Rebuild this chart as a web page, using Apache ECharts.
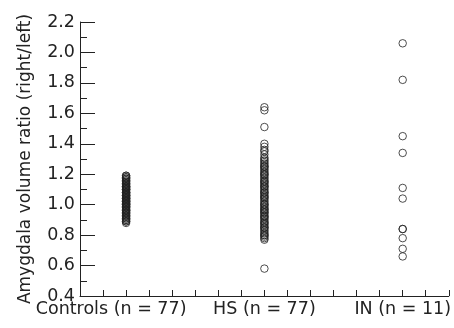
<!DOCTYPE html>
<html>
<head>
<meta charset="utf-8">
<script src="https://cdn.jsdelivr.net/npm/echarts@6/dist/echarts.min.js"></script>
<style>
  html, body { margin: 0; padding: 0; background: #fff; }
  #chart { width: 454px; height: 328px; }
</style>
</head>
<body>
<div id="chart"></div>
<script>
  // group names and x positions (on a 0..16 tick scale)
  var groups = ['Controls (n = 77)', 'HS (n = 77)', 'IN (n = 11)']
  var groupX = [2, 8, 14]

  // amygdala volume ratio (right/left)
  var controls = [
    0.88, 0.89, 0.90, 0.91, 0.92, 0.93, 0.94, 0.95, 0.96, 0.97,
    0.98, 0.99, 1.00, 1.01, 1.02, 1.03, 1.04, 1.05, 1.06, 1.07,
    1.08, 1.09, 1.10, 1.11, 1.12, 1.13, 1.14, 1.15, 1.16, 1.17,
    1.18, 1.19, 0.89, 0.90, 0.92, 0.93, 0.95, 0.96, 0.98, 0.99,
    1.00, 1.01, 1.02, 1.03, 1.04, 1.05, 1.06, 1.07, 1.08, 1.09,
    1.10, 1.11, 1.12, 1.13, 1.15, 1.16, 1.18, 1.19, 0.91, 0.94,
    0.97, 1.00, 1.01, 1.02, 1.04, 1.05, 1.06, 1.08, 1.10, 1.12,
    1.14, 1.17, 1.03, 0.99, 1.07, 1.11, 0.96
  ]
  var hs = [
    1.64, 1.62, 1.51, 1.40, 1.38, 1.36, 1.35, 1.33, 1.31,
    1.30, 1.29, 1.28, 1.27, 1.26, 1.25, 1.24, 1.23, 1.22, 1.21,
    1.20, 1.19, 1.18, 1.17, 1.16, 1.15, 1.14, 1.13, 1.12, 1.11,
    1.10, 1.09, 1.08, 1.07, 1.06, 1.05, 1.04, 1.03, 1.02, 1.01,
    1.00, 0.99, 0.98, 0.97, 0.96, 0.95, 0.94, 0.93, 0.92, 0.91,
    0.90, 0.89, 0.88, 0.87, 0.86, 0.85, 0.84, 0.83, 0.82, 0.81,
    0.80, 0.79, 0.78, 0.77, 0.58,
    1.25, 1.20, 1.15, 1.12, 1.08, 1.05, 1.00, 0.97, 0.95, 0.92,
    0.88, 0.85, 0.80
  ]
  var inGroup = [2.06, 1.82, 1.45, 1.34, 1.11, 1.04, 0.84, 0.84, 0.78, 0.71, 0.66]

  var yTicks = [0.4, 0.6, 0.8, 1.0, 1.2, 1.4, 1.6, 1.8, 2.0, 2.2]

  function toPoints(x, list) {
    var out = []
    for (var i = 0; i < list.length; i++) {
      out.push([x, list[i]])
    }
    return out
  }

  var textColor = '#222'
  var font = 'DejaVu Sans'

  var chart = echarts.init(document.getElementById('chart'))
  var option = {
    animation: false,
    grid: {
      left: 80,
      right: 1,
      top: 22,
      bottom: 32
    },
    xAxis: {
      type: 'value',
      min: 0,
      max: 16,
      interval: 1,
      axisLine: { lineStyle: { color: textColor, width: 1 } },
      axisTick: { inside: true, length: 6, lineStyle: { color: textColor } },
      splitLine: { show: false },
      axisLabel: {
        margin: 4,
        color: textColor,
        fontFamily: font,
        fontSize: 17.5,
        formatter: function (v) {
          var k = groupX.indexOf(v)
          if (k < 0) return ''
          if (k === 0) return '{c|' + groups[k] + '}'
          return groups[k]
        },
        rich: {
          c: {
            color: textColor,
            fontFamily: font,
            fontSize: 17.5,
            padding: [0, 30, 0, 0]
          }
        }
      }
    },
    yAxis: {
      type: 'value',
      min: yTicks[0],
      max: yTicks[yTicks.length - 1],
      interval: 0.2,
      name: 'Amygdala volume ratio (right/left)',
      nameLocation: 'middle',
      nameGap: 46,
      nameTextStyle: { color: textColor, fontFamily: font, fontSize: 17 },
      axisLine: { show: true, lineStyle: { color: textColor, width: 1 } },
      axisTick: { show: true, inside: true, length: 15, lineStyle: { color: textColor } },
      minorTick: { show: true, splitNumber: 2, length: 7, lineStyle: { color: textColor } },
      splitLine: { show: false },
      axisLabel: {
        margin: 5,
        color: textColor,
        fontFamily: font,
        fontSize: 17.5,
        formatter: function (v) { return v.toFixed(1) }
      }
    },
    series: [
      { name: groups[0], data: toPoints(groupX[0], controls) },
      { name: groups[1], data: toPoints(groupX[1], hs) },
      { name: groups[2], data: toPoints(groupX[2], inGroup) }
    ].map(function (s) {
      s.type = 'scatter'
      s.symbol = 'circle'
      s.symbolSize = 7.5
      s.itemStyle = { color: 'rgba(0,0,0,0)', borderColor: '#222', borderWidth: 1 }
      return s
    })
  }
  chart.setOption(option)
</script>
</body>
</html>
